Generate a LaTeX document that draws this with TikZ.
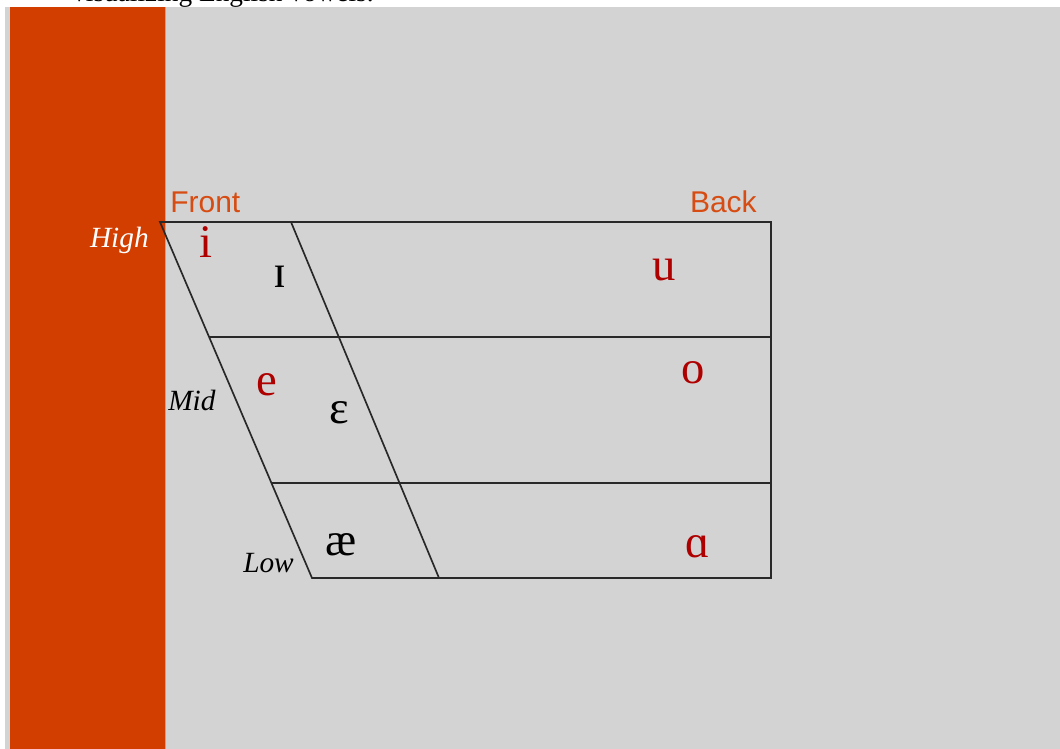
\documentclass[tikz,border=0pt]{standalone}
\usepackage{fontspec}
\setmainfont{Liberation Serif}
\newfontfamily\labelsans{Liberation Sans}
\definecolor{barorange}{RGB}{210,61,0}
\definecolor{panelgray}{RGB}{211,211,211}
\definecolor{headorange}{RGB}{214,76,18}
\definecolor{vowelred}{RGB}{175,0,0}
\definecolor{chartgray}{RGB}{40,40,40}
\tikzset{
  vowel/.style={inner sep=0pt, anchor=base, font=\fontsize{35}{40}\selectfont},
  tonguelevel/.style={inner sep=0pt, font=\fontsize{22}{26}\selectfont\itshape},
  tonguepos/.style={inner sep=0pt, text=headorange, font=\labelsans\fontsize{22.5}{26}\selectfont},
  chartline/.style={draw=chartgray, line width=1.25pt}
}
\begin{document}
\begin{tikzpicture}[x=0.75pt, y=-0.75pt]
\useasboundingbox (0,0) rectangle (1060,749);
\clip (0,0) rectangle (1060,749);
% background and side bar
\fill[white] (0,0) rectangle (1060,749);
\fill[panelgray] (5,7) rectangle (1060,749);
\fill[barorange] (10,7) rectangle (165,749);
\draw[barorange!55!white, line width=0.6pt] (165,7) -- (165,749);
\node[inner sep=0pt, anchor=base west, font=\fontsize{20.5}{24}\selectfont] (title) at (72,2) {visualizing English vowels.};
% chart corners
\coordinate (hf) at (160,222);
\coordinate (hi) at (291,222);
\coordinate (hb) at (771,222);
\coordinate (mf) at (209,337);
\coordinate (mb) at (771,337);
\coordinate (lmf) at (271.4,483);
\coordinate (lmb) at (771,483);
\coordinate (lf) at (312,578);
\coordinate (li) at (439,578);
\coordinate (lb) at (771,578);
\draw[chartline] (hf) -- (hb) -- (lb) -- (lf) -- cycle;
\draw[chartline] (hi) -- (li);
\draw[chartline] (mf) -- (mb);
\draw[chartline] (lmf) -- (lmb);
% labels
\node[tonguepos, anchor=base west] (front) at (170,212) {Front};
\node[tonguepos, anchor=base east] (back) at (757,212) {Back};
\node[tonguelevel, anchor=base east, text=white] (high) at (149,247) {High};
\node[tonguelevel, anchor=base west, text=black] (mid) at (168,410) {Mid};
\node[tonguelevel, anchor=base west, text=black] (low) at (243,572) {Low};
% vowels
\node[vowel, text=vowelred] (i) at (206,257) {i};
\node[vowel, text=black] (I) at (280,287) {ɪ};
\node[vowel, text=vowelred] (u) at (664,280) {u};
\node[vowel, text=vowelred] (e) at (267,395) {e};
\node[vowel, text=black] (E) at (339,423) {ɛ};
\node[vowel, text=vowelred] (o) at (693,383) {o};
\node[vowel, text=black] (ae) at (341,555) {æ};
\node[vowel, text=vowelred] (a) at (698,557) {ɑ};
\end{tikzpicture}
\end{document}
